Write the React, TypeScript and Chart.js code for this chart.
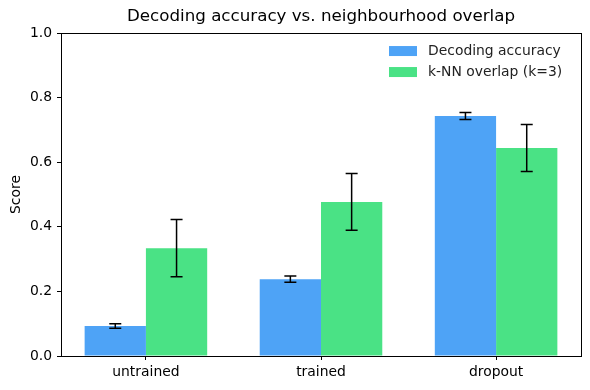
import React, { useEffect, useRef } from "react";
import { Chart, registerables } from "chart.js";

Chart.register(...registerables);

const categories = ["untrained", "trained", "dropout"];
const accuracy = [0.093, 0.238, 0.743];
const accuracyErr = [0.007, 0.01, 0.011];
const overlap = [0.334, 0.477, 0.644];
const overlapErr = [0.089, 0.088, 0.073];
const yTicks = [0, 0.2, 0.4, 0.6, 0.8, 1.0];

const BLUE = "#4ea3f6";
const GREEN = "#4ae285";
const FONT = "'DejaVu Sans', sans-serif";
const FS = 13.9;

const errorBarPlugin = {
  id: "errorBars",
  afterDatasetsDraw(chart: any) {
    const ctx = chart.ctx;
    const yScale = chart.scales.y;
    chart.data.datasets.forEach((ds: any, i: number) => {
      const meta = chart.getDatasetMeta(i);
      const errs: number[] = ds.errors || [];
      meta.data.forEach((el: any, j: number) => {
        const v = ds.data[j].y;
        const e = errs[j];
        const x = el.x;
        const yTop = yScale.getPixelForValue(v + e);
        const yBot = yScale.getPixelForValue(v - e);
        ctx.save();
        ctx.strokeStyle = "#000";
        ctx.lineWidth = 1.5;
        ctx.beginPath();
        ctx.moveTo(x, yTop);
        ctx.lineTo(x, yBot);
        ctx.moveTo(x - 6, yTop);
        ctx.lineTo(x + 6, yTop);
        ctx.moveTo(x - 6, yBot);
        ctx.lineTo(x + 6, yBot);
        ctx.stroke();
        ctx.restore();
      });
    });
  },
};

const framePlugin = {
  id: "frame",
  afterDraw(chart: any) {
    const { ctx, chartArea } = chart;
    ctx.save();
    ctx.strokeStyle = "#000";
    ctx.lineWidth = 1;
    ctx.strokeRect(
      Math.round(chartArea.left) + 0.5,
      Math.round(chartArea.top) + 0.5,
      Math.round(chartArea.right - chartArea.left),
      Math.round(chartArea.bottom - chartArea.top)
    );
    // legend
    const x0 = chartArea.right - 192;
    let y0 = chartArea.top + 13;
    ctx.font = `${FS}px ${FONT}`;
    ctx.textBaseline = "middle";
    ctx.textAlign = "left";
    chart.data.datasets.forEach((ds: any) => {
      ctx.fillStyle = ds.backgroundColor;
      ctx.fillRect(x0, y0, 28, 10);
      ctx.fillStyle = "#222";
      ctx.fillText(ds.label, x0 + 39, y0 + 5.5);
      y0 += 21;
    });
    ctx.restore();
  },
};

export default function App() {
  const ref = useRef<HTMLCanvasElement | null>(null);
  useEffect(() => {
    document.body.style.margin = "0";
    if (!ref.current) return;
    Chart.defaults.font.family = FONT;
    Chart.defaults.color = "#000";
    const chart = new Chart(ref.current, {
      type: "bar",
      data: {
        datasets: [
          {
            label: "Decoding accuracy",
            data: accuracy.map((v, i) => ({ x: i, y: v })),
            errors: accuracyErr,
            backgroundColor: BLUE,
            borderWidth: 0,
          } as any,
          {
            label: "k-NN overlap (k=3)",
            data: overlap.map((v, i) => ({ x: i, y: v })),
            errors: overlapErr,
            backgroundColor: GREEN,
            borderWidth: 0,
          } as any,
        ],
      },
      options: {
        responsive: false,
        animation: false,
        layout: { padding: { left: 0, right: 9, top: 0, bottom: 0 } },
        datasets: {
          bar: { categoryPercentage: 0.7, barPercentage: 1.0 },
        },
        plugins: {
          legend: { display: false },
          tooltip: { enabled: false },
          title: {
            display: true,
            text: "Decoding accuracy vs. neighbourhood overlap",
            fullSize: false,
            color: "#000",
            font: { size: 16.7, weight: "normal", family: FONT },
            padding: { top: 7, bottom: 6 },
          },
        },
        scales: {
          x: {
            type: "linear",
            min: -0.485,
            max: 2.485,
            offset: false,
            afterBuildTicks(scale: any) {
              scale.ticks = categories.map((_, i) => ({ value: i }));
            },
            grid: {
              offset: false,
              drawOnChartArea: false,
              drawTicks: true,
              tickLength: 4,
              color: "#000",
            },
            border: { display: true, color: "#000" },
            ticks: {
              font: { size: FS },
              color: "#000",
              padding: 4,
              autoSkip: false,
              maxRotation: 0,
              callback: (v: any) => categories[Math.round(Number(v))] ?? "",
            },
            afterFit(scale: any) {
              scale.height = 34;
            },
          },
          y: {
            min: 0,
            max: 1,
            afterBuildTicks(scale: any) {
              scale.ticks = yTicks.map((v) => ({ value: v }));
            },
            grid: {
              drawOnChartArea: false,
              drawTicks: true,
              tickLength: 4,
              color: "#000",
            },
            border: { display: true, color: "#000" },
            ticks: {
              font: { size: FS },
              color: "#000",
              padding: 5,
              callback: (v: any) => Number(v).toFixed(1),
            },
            title: {
              display: true,
              text: "Score",
              font: { size: FS },
              color: "#000",
              padding: { top: 8, bottom: 0 },
            },
            afterFit(scale: any) {
              scale.width = 61;
            },
          },
        },
      },
      plugins: [errorBarPlugin, framePlugin],
    } as any);
    return () => chart.destroy();
  }, []);
  return (
    <div style={{ width: 590, height: 390 }}>
      <canvas ref={ref} width={590} height={390} style={{ display: "block" }} />
    </div>
  );
}
